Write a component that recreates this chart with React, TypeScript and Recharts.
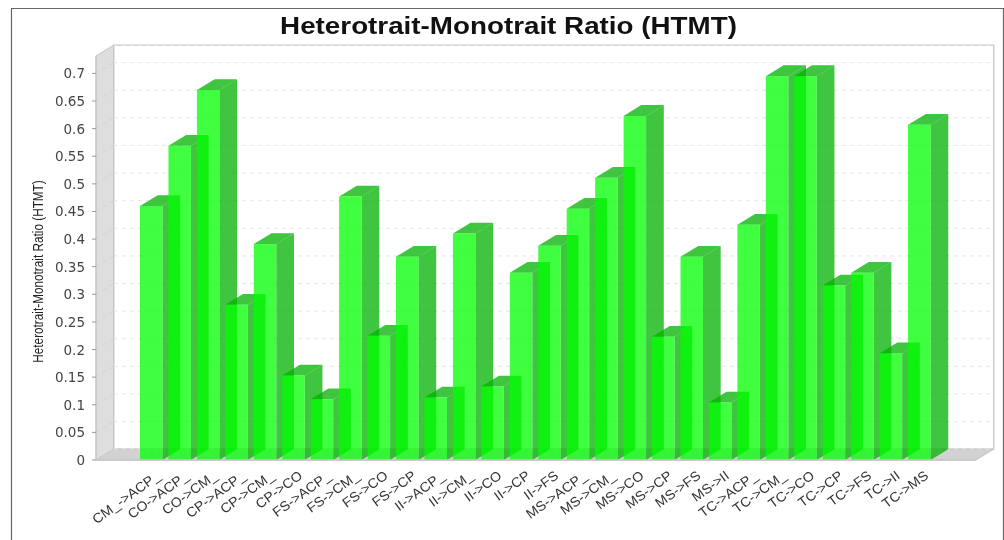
import React from "react";
import { BarChart, Bar, XAxis, YAxis, CartesianGrid, usePlotArea } from "recharts";

const categories = ["CM_->ACP_","CO->ACP_","CO->CM_","CP->ACP_","CP->CM_","CP->CO","FS->ACP_","FS->CM_","FS->CO","FS->CP","II->ACP_","II->CM_","II->CO","II->CP","II->FS","MS->ACP_","MS->CM_","MS->CO","MS->CP","MS->FS","MS->II","TC->ACP_","TC->CM_","TC->CO","TC->CP","TC->FS","TC->II","TC->MS"];
const htmtValues = [0.46,0.569,0.67,0.281,0.391,0.153,0.11,0.477,0.225,0.368,0.113,0.41,0.133,0.339,0.388,0.455,0.511,0.623,0.223,0.368,0.104,0.426,0.695,0.695,0.316,0.339,0.193,0.607];
const yTicks = [0,0.05,0.1,0.15,0.2,0.25,0.3,0.35,0.4,0.45,0.5,0.55,0.6,0.65,0.7];
const TITLE = "Heterotrait-Monotrait Ratio (HTMT)";
const data = categories.map((name, i) => ({ name, value: htmtValues[i] }));

const DX = 17.7;
const DY = 10.8;
const FRONT = "rgba(0,255,0,0.75)";
const SIDE = "rgba(0,178,0,0.75)";

function Walls() {
  const p = usePlotArea();
  if (!p) return null;
  const l = p.x, t = p.y, r = p.x + p.width, b = p.y + p.height;
  return (
    <g>
      <path d="M11.5 540V8.5H1003.5V540" fill="none" stroke="#666" strokeWidth={1.2} />
      <rect x={l + DX} y={t - DY} width={p.width} height={p.height} fill="none" stroke="#cfcfcf" strokeWidth={1.5} />
      <polygon points={`${l},${b} ${l},${t} ${l + DX},${t - DY} ${l + DX},${b - DY}`} fill="#dedede" stroke="#c4c4c4" />
      <polygon points={`${l},${b} ${l + DX},${b - DY} ${r + DX},${b - DY} ${r},${b}`} fill="#d2d2d2" stroke="#c4c4c4" />
      <text transform="translate(508.5,34) scale(1.158,1)" textAnchor="middle" fontFamily="Liberation Sans" fontWeight="bold" fontSize={24} fill="#111">{TITLE}</text>
      <text transform="translate(43,271.5) rotate(-90) scale(0.77,1)" textAnchor="middle" fontFamily="Liberation Sans" fontSize={15.3} fill="#222">{TITLE}</text>
    </g>
  );
}

function GridLine(props: any) {
  const { x1, x2, y1 } = props;
  return (
    <g stroke="#e6e6e6" strokeDasharray="4 4" strokeWidth={1}>
      <line x1={x1} y1={y1} x2={x1 + DX} y2={y1 - DY} stroke="#d2d2d2" />
      <line x1={x1 + DX} y1={y1 - DY} x2={x2 + DX - 2} y2={y1 - DY} />
    </g>
  );
}

function Bar3D(props: any) {
  const { x, y, width: w, height: h } = props;
  const b = y + h;
  return (
    <g>
      <polygon points={`${x + w},${y} ${x + w + DX},${y - DY} ${x + w + DX},${b - DY} ${x + w},${b}`} fill={SIDE} />
      <polygon points={`${x},${y} ${x + DX},${y - DY} ${x + w + DX},${y - DY} ${x + w},${y}`} fill={SIDE} />
      <rect x={x} y={y} width={w} height={h} fill={FRONT} />
    </g>
  );
}

function XTick(props: any) {
  const { x, y, payload } = props;
  return (
    <text transform={`translate(${x + 10},${y + 9.5}) rotate(-36) scale(1.05,1)`} textAnchor="end" fontFamily="Liberation Sans" fontSize={13.5} fill="#333">
      {payload.value}
    </text>
  );
}

function YTick(props: any) {
  const { x, y, payload } = props;
  return (
    <text x={x - 5} y={y + 5} textAnchor="end" fontFamily="DejaVu Sans" fontSize={13.5} fill="#444">
      {String(payload.value)}
    </text>
  );
}

export default function App() {
  return (
    <div style={{ position: "absolute", left: 0, top: 0, width: 1004, height: 540, overflow: "hidden", background: "#fff", filter: "blur(0.45px)" }}>
      <BarChart width={1004} height={540} data={data} margin={{ top: 56, right: 28, bottom: 0, left: 0 }} barCategoryGap={0}>
        <Walls />
        <CartesianGrid vertical={false} zIndex={1} horizontal={(p: any) => <GridLine key={p.key} {...p} />} />
        <XAxis dataKey="name" interval={0} height={80} padding={{ left: 41, right: 42.5 }} tick={<XTick />} tickLine={false} axisLine={{ stroke: "#c4c4c4", strokeWidth: 1.5 }} />
        <YAxis width={96} domain={[0, 0.7315]} ticks={yTicks} tick={<YTick />} tickLine={{ stroke: "#999" }} tickSize={4} axisLine={{ stroke: "#c4c4c4" }} />
        <Bar dataKey="value" barSize={22.5} isAnimationActive={false} shape={<Bar3D />} />
      </BarChart>
    </div>
  );
}
